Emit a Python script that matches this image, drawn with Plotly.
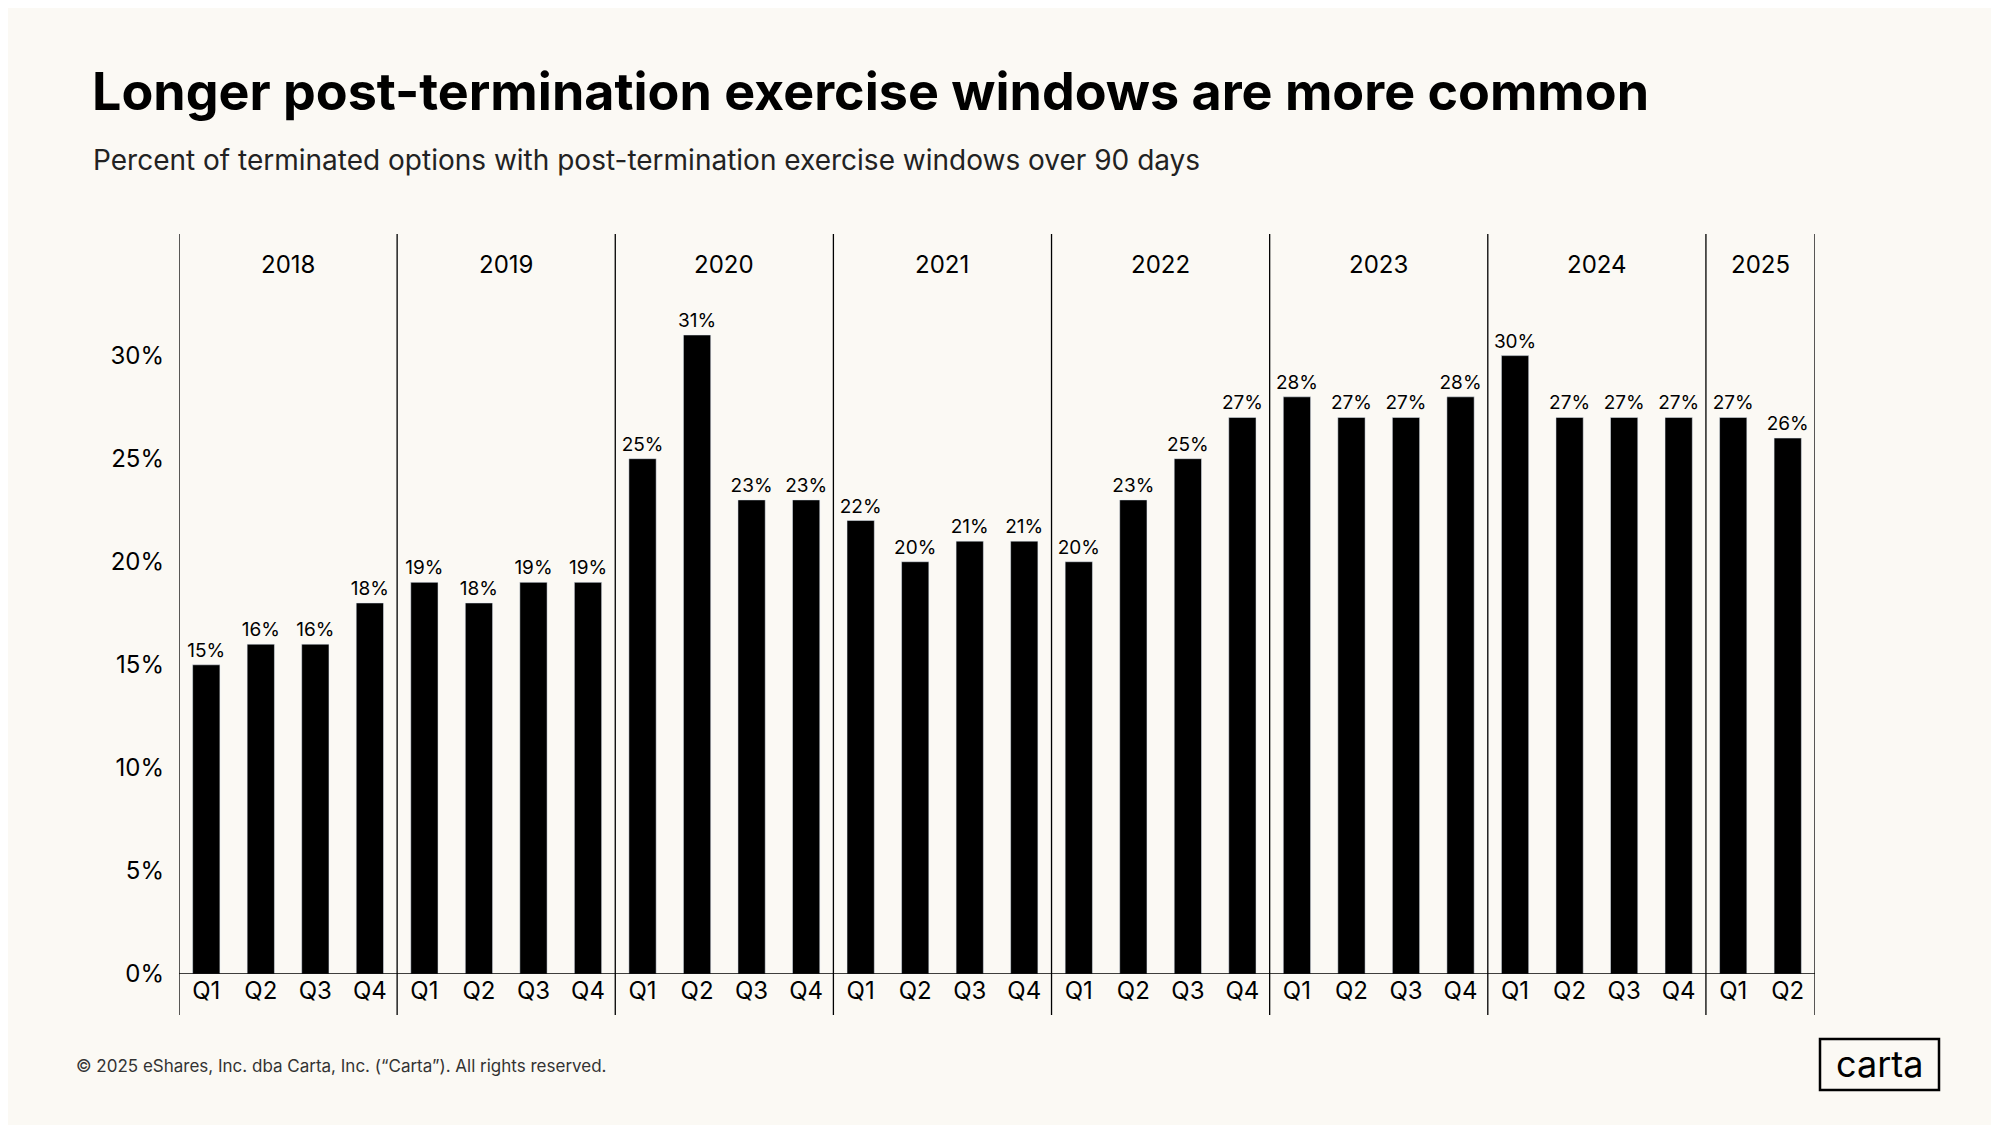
import plotly.graph_objects as go

years = ["2018", "2019", "2020", "2021", "2022", "2023", "2024", "2025"]
quarters = ["Q1", "Q2", "Q3", "Q4"] * 7 + ["Q1", "Q2"]
values = [15, 16, 16, 18,
          19, 18, 19, 19,
          25, 31, 23, 23,
          22, 20, 21, 21,
          20, 23, 25, 27,
          28, 27, 27, 28,
          30, 27, 27, 27,
          27, 26]
y_ticks = [0, 5, 10, 15, 20, 25, 30]

FONT = "Inter"
BG = "#FBF9F4"
W, H = 1999, 1125
L, R, T, B = 171, 192, 226, 159


# pixel position -> paper coords (paper spans the plot area)
def px(xp):
    return (xp - L) / (W - L - R)


def py(yp):
    return (H - B - yp) / (H - T - B)


x = list(range(len(values)))
fig = go.Figure(go.Bar(
    x=x, y=values, width=0.5, marker_color="black",
    text=[f"{v}%" for v in values], textposition="outside", constraintext="none",
    textfont=dict(size=19, color="black", family=FONT), cliponaxis=False,
))

# year separators and headers
edges = [-0.5] + [3.5 + 4 * i for i in range(7)] + [len(values) - 0.5]
for e in edges:
    fig.add_shape(type="line", xref="x", yref="paper", x0=e, x1=e, y0=py(1007), y1=1,
                  line=dict(color="black", width=1.3))
for i, yr in enumerate(years):
    mid = (edges[i] + edges[i + 1]) / 2
    fig.add_annotation(x=mid, y=py(240), xref="x", yref="paper", text=yr, showarrow=False,
                       font=dict(size=24, family=FONT, color="black"))
fig.add_shape(type="line", xref="x", yref="y", x0=-0.5, x1=len(values) - 0.5, y0=0, y1=0,
              line=dict(color="black", width=1.3))

fig.add_annotation(x=px(82), y=py(84), xref="paper", yref="paper", xanchor="left",
                   yanchor="middle", showarrow=False,
                   text="<b>Longer post-termination exercise windows are more common</b>",
                   font=dict(size=52, family=FONT, color="black"))
fig.add_annotation(x=px(83), y=py(152), xref="paper", yref="paper", xanchor="left",
                   yanchor="middle", showarrow=False,
                   text="Percent of terminated options with post-termination exercise windows over 90 days",
                   font=dict(size=28, family=FONT, color="#222"))
fig.add_annotation(x=px(66), y=py(1058), xref="paper", yref="paper", xanchor="left",
                   yanchor="middle", showarrow=False,
                   text="© 2025 eShares, Inc. dba Carta, Inc. (“Carta”). All rights reserved.",
                   font=dict(size=17, family=FONT, color="#333"))
fig.add_shape(type="rect", xref="paper", yref="paper", x0=px(1812), x1=px(1931),
              y0=py(1082), y1=py(1031), line=dict(color="black", width=2.5))
fig.add_annotation(x=px(1871), y=py(1056), xref="paper", yref="paper",
                   xanchor="center", yanchor="middle",
                   showarrow=False, text="carta",
                   font=dict(size=36, family=FONT, color="black"))

fig.update_layout(
    width=W, height=H, paper_bgcolor=BG, plot_bgcolor=BG,
    margin=dict(l=L, r=R, t=T, b=B), showlegend=False,
    font=dict(family=FONT, color="black"),
)
fig.update_xaxes(range=[-0.5, len(values) - 0.5], tickmode="array", tickvals=x,
                 ticktext=quarters, showgrid=False, zeroline=False, showline=False,
                 ticks="", tickfont=dict(size=24, family=FONT))
fig.update_yaxes(range=[0, 35.9], tickmode="array", tickvals=y_ticks,
                 ticktext=[f"{t}%" for t in y_ticks], showgrid=False, zeroline=False,
                 showline=False, ticks="", ticklabelstandoff=14,
                 tickfont=dict(size=24, family=FONT))

fig.write_html("out.html")
